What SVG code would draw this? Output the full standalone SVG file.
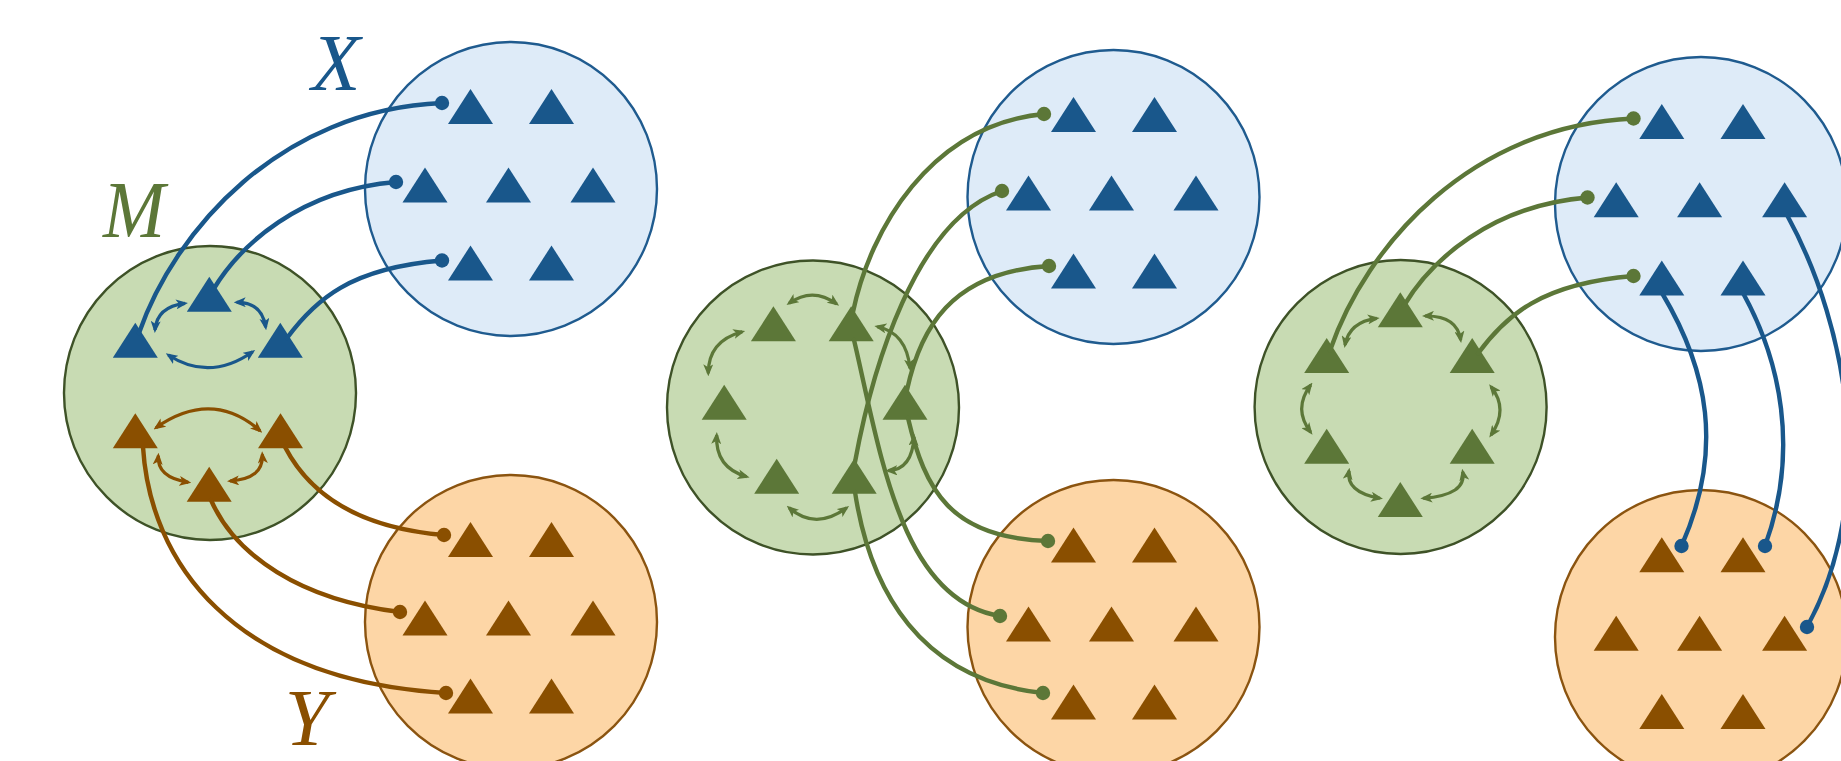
<svg xmlns="http://www.w3.org/2000/svg" xmlns:xlink="http://www.w3.org/1999/xlink" width="1841" height="761" viewBox="0 0 1841 761">
  <style>
    .ell-x { fill: #deebf8; stroke: #1f5b8f; stroke-width: 2.4; }
    .ell-m { fill: #c8dbb3; stroke: #3e5227; stroke-width: 2.4; }
    .ell-y { fill: #fdd6a6; stroke: #8b5410; stroke-width: 2.4; }
    .t-b { fill: #19578b; }
    .t-g { fill: #5c7738; }
    .t-o { fill: #8a4f00; }
    .wire { fill: none; stroke-width: 4.4; stroke-linecap: round; }
    .wire.b { stroke: #19578b; marker-end: url(#dot-b); }
    .wire.g { stroke: #5c7738; marker-end: url(#dot-g); }
    .wire.o { stroke: #8a4f00; marker-end: url(#dot-o); }
    .loop { fill: none; stroke-width: 3.2; }
    .loop.b { stroke: #19578b; marker-start: url(#ah-b); marker-end: url(#ah-b); }
    .loop.g { stroke: #5c7738; marker-start: url(#ah-g); marker-end: url(#ah-g); }
    .loop.o { stroke: #8a4f00; marker-start: url(#ah-o); marker-end: url(#ah-o); }
    .lbl { font-family: "Liberation Serif", "DejaVu Serif", serif; font-style: italic; font-size: 80px; text-anchor: middle; }
  </style>
  <defs>
    <path id="tri" d="M0,-17.5 L22.5,17.5 L-22.5,17.5 Z"/>
    <marker id="ah-b" viewBox="0 0 12 10" refX="9" refY="5" markerWidth="12" markerHeight="10" markerUnits="userSpaceOnUse" orient="auto-start-reverse">
      <path d="M0,0 L12,5 L0,10 L3,5 Z" fill="#19578b"/>
    </marker>
    <marker id="ah-g" viewBox="0 0 12 10" refX="9" refY="5" markerWidth="12" markerHeight="10" markerUnits="userSpaceOnUse" orient="auto-start-reverse">
      <path d="M0,0 L12,5 L0,10 L3,5 Z" fill="#5c7738"/>
    </marker>
    <marker id="ah-o" viewBox="0 0 12 10" refX="9" refY="5" markerWidth="12" markerHeight="10" markerUnits="userSpaceOnUse" orient="auto-start-reverse">
      <path d="M0,0 L12,5 L0,10 L3,5 Z" fill="#8a4f00"/>
    </marker>
    <marker id="dot-b" viewBox="-8 -8 16 16" refX="0" refY="0" markerWidth="16" markerHeight="16" markerUnits="userSpaceOnUse">
      <circle r="7.2" fill="#19578b"/>
    </marker>
    <marker id="dot-g" viewBox="-8 -8 16 16" refX="0" refY="0" markerWidth="16" markerHeight="16" markerUnits="userSpaceOnUse">
      <circle r="7.2" fill="#5c7738"/>
    </marker>
    <marker id="dot-o" viewBox="-8 -8 16 16" refX="0" refY="0" markerWidth="16" markerHeight="16" markerUnits="userSpaceOnUse">
      <circle r="7.2" fill="#8a4f00"/>
    </marker>
  </defs>

  <rect width="1841" height="761" fill="#ffffff"/>

  <!-- Panel 1 -->
  <g id="p1-x">
    <ellipse class="ell-x" cx="511" cy="189" rx="146" ry="147"/>
    <g class="t-b">
      <use xlink:href="#tri" x="470.5" y="106.5"/>
      <use xlink:href="#tri" x="551.5" y="106.5"/>
      <use xlink:href="#tri" x="425" y="185"/>
      <use xlink:href="#tri" x="508.5" y="185"/>
      <use xlink:href="#tri" x="593" y="185"/>
      <use xlink:href="#tri" x="470.5" y="263"/>
      <use xlink:href="#tri" x="551.5" y="263"/>
    </g>
    <text class="lbl" x="336" y="90" fill="#19578b">X</text>
  </g>
  <g id="p1-m">
    <ellipse class="ell-m" cx="210" cy="393" rx="146" ry="147"/>
    <g class="t-b">
      <use xlink:href="#tri" x="209.3" y="294.2"/>
      <use xlink:href="#tri" x="135.3" y="340.3"/>
      <use xlink:href="#tri" x="280.3" y="340.3"/>
    </g>
    <g class="t-o">
      <use xlink:href="#tri" x="135.3" y="430.8"/>
      <use xlink:href="#tri" x="280.5" y="430.8"/>
      <use xlink:href="#tri" x="209.2" y="484.2"/>
    </g>
    <text class="lbl" x="134" y="236.5" fill="#5c7738" textLength="62" lengthAdjust="spacingAndGlyphs">M</text>
  </g>
  <g id="p1-y">
    <ellipse class="ell-y" cx="511" cy="622" rx="146" ry="147"/>
    <g class="t-o">
      <use xlink:href="#tri" x="470.5" y="539.5"/>
      <use xlink:href="#tri" x="551.5" y="539.5"/>
      <use xlink:href="#tri" x="425" y="618"/>
      <use xlink:href="#tri" x="508.5" y="618"/>
      <use xlink:href="#tri" x="593" y="618"/>
      <use xlink:href="#tri" x="470.5" y="696"/>
      <use xlink:href="#tri" x="551.5" y="696"/>
    </g>
    <text class="lbl" x="307" y="745" fill="#8a4f00">Y</text>
  </g>

  <!-- Panel 2 -->
  <g id="p2-x">
    <ellipse class="ell-x" cx="1113.5" cy="197" rx="146" ry="147"/>
    <g class="t-b">
      <use xlink:href="#tri" x="1073.5" y="114.5"/>
      <use xlink:href="#tri" x="1154.5" y="114.5"/>
      <use xlink:href="#tri" x="1028.5" y="193"/>
      <use xlink:href="#tri" x="1111.5" y="193"/>
      <use xlink:href="#tri" x="1196" y="193"/>
      <use xlink:href="#tri" x="1073.5" y="271"/>
      <use xlink:href="#tri" x="1154.5" y="271"/>
    </g>
  </g>
  <g id="p2-m">
    <ellipse class="ell-m" cx="813" cy="407.5" rx="146" ry="147"/>
    <g class="t-g">
      <use xlink:href="#tri" x="773.4" y="323.8"/>
      <use xlink:href="#tri" x="851.2" y="323.8"/>
      <use xlink:href="#tri" x="724.2" y="402.2"/>
      <use xlink:href="#tri" x="905" y="402.2"/>
      <use xlink:href="#tri" x="776.7" y="476.2"/>
      <use xlink:href="#tri" x="854.2" y="476.2"/>
    </g>
  </g>
  <g id="p2-y">
    <ellipse class="ell-y" cx="1113.5" cy="627" rx="146" ry="147"/>
    <g class="t-o">
      <use xlink:href="#tri" x="1073.5" y="545"/>
      <use xlink:href="#tri" x="1154.5" y="545"/>
      <use xlink:href="#tri" x="1028.5" y="624"/>
      <use xlink:href="#tri" x="1111.5" y="624"/>
      <use xlink:href="#tri" x="1196" y="624"/>
      <use xlink:href="#tri" x="1073.5" y="702"/>
      <use xlink:href="#tri" x="1154.5" y="702"/>
    </g>
  </g>

  <!-- Panel 3 -->
  <g id="p3-x">
    <ellipse class="ell-x" cx="1701" cy="204" rx="146" ry="147"/>
    <g class="t-b">
      <use xlink:href="#tri" x="1661.8" y="121.5"/>
      <use xlink:href="#tri" x="1743" y="121.5"/>
      <use xlink:href="#tri" x="1616.2" y="199.8"/>
      <use xlink:href="#tri" x="1699.6" y="199.8"/>
      <use xlink:href="#tri" x="1784.6" y="199.8"/>
      <use xlink:href="#tri" x="1661.8" y="278"/>
      <use xlink:href="#tri" x="1743" y="278"/>
    </g>
  </g>
  <g id="p3-m">
    <ellipse class="ell-m" cx="1400.6" cy="407" rx="146" ry="147"/>
    <g class="t-g">
      <use xlink:href="#tri" x="1400.3" y="309.7"/>
      <use xlink:href="#tri" x="1326.7" y="355.5"/>
      <use xlink:href="#tri" x="1472.2" y="355.5"/>
      <use xlink:href="#tri" x="1326.7" y="446.2"/>
      <use xlink:href="#tri" x="1472.2" y="446.2"/>
      <use xlink:href="#tri" x="1400.3" y="499.5"/>
    </g>
  </g>
  <g id="p3-y">
    <ellipse class="ell-y" cx="1701" cy="637" rx="146" ry="147"/>
    <g class="t-o">
      <use xlink:href="#tri" x="1661.8" y="554.8"/>
      <use xlink:href="#tri" x="1743" y="554.8"/>
      <use xlink:href="#tri" x="1616.2" y="633.2"/>
      <use xlink:href="#tri" x="1699.6" y="633.2"/>
      <use xlink:href="#tri" x="1784.6" y="633.2"/>
      <use xlink:href="#tri" x="1661.8" y="711.5"/>
      <use xlink:href="#tri" x="1743" y="711.5"/>
    </g>
  </g>

  <!-- Connectors -->
  <g id="connectors">
    <!-- panel 1: M to X (blue) -->
    <path class="wire b" d="M139,333 C175,230 280,110 442,103"/>
    <path class="wire b" d="M213,290 C240,245 300,190 396,182"/>
    <path class="wire b" d="M287,338 C315,300 350,268 442,260.5"/>
    <!-- panel 1: M to Y (brown) -->
    <path class="wire o" d="M285,447 C310,495 360,528 444,535"/>
    <path class="wire o" d="M211,500 C235,555 300,600 400,612"/>
    <path class="wire o" d="M143,447 C150,560 230,680 446,693"/>
    <!-- panel 1: loops inside M -->
    <path class="loop b" d="M155,330 Q156.7,306.7 185,303.3"/>
    <path class="loop b" d="M236.7,302.3 Q262,302 265.7,327.3"/>
    <path class="loop b" d="M168.3,355 Q209.5,382 252.7,351.7"/>
    <path class="loop o" d="M156,427.7 Q212,388.8 260,430.7"/>
    <path class="loop o" d="M158.3,455.7 Q156.7,477.6 188.3,482.3"/>
    <path class="loop o" d="M262.3,454.3 Q263.9,479 230,481"/>

    <!-- panel 2: M to X and Y (green) -->
    <path class="wire g" d="M853,312 C870,230 930,125 1044,114"/>
    <path class="wire g" d="M854,340 C880,450 900,600 1000,616"/>
    <path class="wire g" d="M855,462 C872,370 915,220 1002,191"/>
    <path class="wire g" d="M907,390 C920,330 950,272 1049,266"/>
    <path class="wire g" d="M908,418 C925,490 950,538 1048,541"/>
    <path class="wire g" d="M855,492 C870,590 920,680 1043,693"/>
    <!-- panel 2: loops inside M -->
    <path class="loop g" d="M789,303.3 Q812.7,286.4 836.7,304"/>
    <path class="loop g" d="M742.3,331.7 Q708.1,340.9 708.3,373.3"/>
    <path class="loop g" d="M877.3,326.7 Q906.4,332.5 910,368.3"/>
    <path class="loop g" d="M716.7,435 Q714.9,467.6 746.7,476.7"/>
    <path class="loop g" d="M914,436.7 Q912.3,469.7 888.3,470.7"/>
    <path class="loop g" d="M789,507.7 Q815.6,530.9 846.7,507.7"/>

    <!-- panel 3: M to X (green) -->
    <path class="wire g" d="M1330,350.5 C1366,245.5 1471,125.5 1633.5,118.5"/>
    <path class="wire g" d="M1404,305.5 C1431,260.5 1491,205.5 1587.5,197.5"/>
    <path class="wire g" d="M1478,353.5 C1506,315.5 1541,283.5 1633.5,276"/>
    <!-- panel 3: X to Y (blue) -->
    <path class="wire b" d="M1662,293 C1708,370 1724,450 1681.5,546"/>
    <path class="wire b" d="M1743,293 C1780,360 1800,450 1765,546"/>
    <path class="wire b" d="M1787,215 C1850,330 1877,500 1807,627"/>
    <!-- panel 3: loops inside M -->
    <path class="loop g" d="M1345,345 Q1349.2,321.8 1376.7,318.3"/>
    <path class="loop g" d="M1425,316 Q1457.2,315.4 1460.7,340"/>
    <path class="loop g" d="M1310.7,385 Q1292.7,408.7 1310.7,432.3"/>
    <path class="loop g" d="M1491,386.7 Q1509,409.2 1491,435"/>
    <path class="loop g" d="M1349,470.7 Q1345.5,492.1 1380,498.3"/>
    <path class="loop g" d="M1462.7,471.7 Q1467,495 1423.3,498.3"/>
  </g>
</svg>
